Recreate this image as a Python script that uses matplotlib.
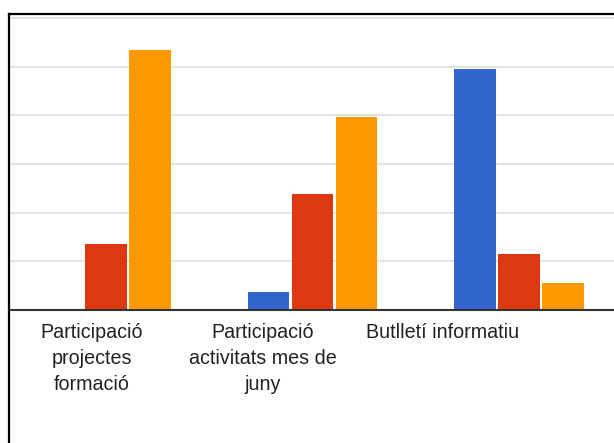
import matplotlib.pyplot as plt
from matplotlib.lines import Line2D
import numpy as np

categories = ['Participació\nprojectes\nformació',
              'Participació\nactivitats mes de\njuny',
              'Butlletí informatiu']
blue_vals = [0, 0.37, 4.95]
red_vals = [1.36, 2.38, 1.15]
orange_vals = [5.34, 3.96, 0.55]
colors = ['#3366cc', '#dc3912', '#ff9900']

plt.rcParams['font.family'] = ['Liberation Sans', 'DejaVu Sans']

fig = plt.figure(figsize=(6.14, 4.43), dpi=100)
ax = fig.add_axes([9 / 614, 133 / 443, 1 - 9 / 614, 296 / 443])

x = np.arange(len(categories))
step = 0.213
width = 0.202
for i, (vals, c) in enumerate(zip([blue_vals, red_vals, orange_vals], colors)):
    ax.bar(x + (i - 1) * step, vals, width, color=c, zorder=3)

ax.set_xlim(-0.47, 2.46)
ax.set_ylim(0, 6.08)
ax.set_yticks(np.arange(0, 7))
ax.yaxis.grid(True, color='#dddddd', linewidth=1.2, zorder=0)
ax.tick_params(axis='y', left=False, labelleft=False)

# labels sit a bit left of the groups in the original
label_shift = [-0.07, -0.24, -0.37]
ax.set_xticks(x + np.array(label_shift))
ax.set_xticklabels(categories, fontsize=14.2, color='#222222', linespacing=1.45)
ax.tick_params(axis='x', bottom=False, pad=6)

for s in ['top', 'right', 'left']:
    ax.spines[s].set_visible(False)
ax.spines['bottom'].set_color('#333333')
ax.spines['bottom'].set_linewidth(1.5)
ax.spines['bottom'].set_zorder(4)

# black frame of the screenshot
fig.add_artist(Line2D([8.5 / 614, 8.5 / 614], [0, 1 - 14 / 443], color='black', linewidth=1.6))
fig.add_artist(Line2D([8.5 / 614, 1], [1 - 14 / 443, 1 - 14 / 443], color='black', linewidth=1.6))

fig.savefig('out.png', dpi=100)
